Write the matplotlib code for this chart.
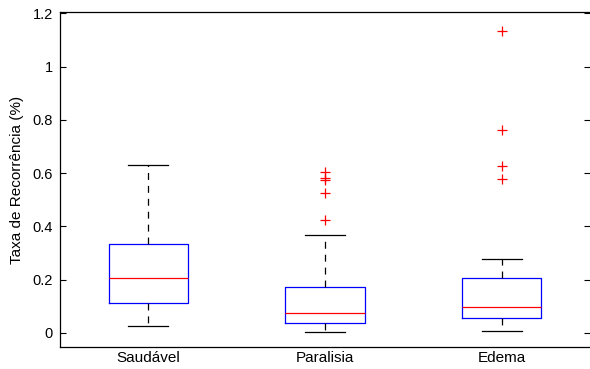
import matplotlib
matplotlib.use("Agg")
import matplotlib.pyplot as plt

plt.rcParams['font.family'] = ['Liberation Sans', 'DejaVu Sans']
plt.rcParams['lines.scale_dashes'] = False

categories = ["Saudável", "Paralisia", "Edema"]
whislo = [0.025, 0.004, 0.008]
q1 = [0.112, 0.036, 0.055]
med = [0.206, 0.073, 0.097]
q3 = [0.334, 0.171, 0.207]
whishi = [0.630, 0.366, 0.279]
fliers = [[], [0.605, 0.581, 0.573, 0.527, 0.425], [1.134, 0.762, 0.626, 0.577]]
yticks = [0, 0.2, 0.4, 0.6, 0.8, 1.0, 1.2]
yticklabels = ["0", "0.2", "0.4", "0.6", "0.8", "1", "1.2"]

stats = []
for i, c in enumerate(categories):
    stats.append(dict(label=c, whislo=whislo[i], q1=q1[i], med=med[i],
                      q3=q3[i], whishi=whishi[i], fliers=fliers[i]))

fig = plt.figure(figsize=(5.9, 3.69), dpi=100)
ax = fig.add_axes([60/590, 1-347/369, 1-60/590, (347-12)/369])

ax.bxp(stats, positions=[1, 2, 3], widths=0.45, capwidths=0.225,
       boxprops=dict(color='#0000ff', linewidth=0.9),
       medianprops=dict(color='#ff0000', linewidth=0.9),
       whiskerprops=dict(color='black', linewidth=0.9, linestyle=(0, (5, 4.3))),
       capprops=dict(color='black', linewidth=0.9),
       flierprops=dict(marker='+', markeredgecolor='#ff0000', markersize=7,
                       markeredgewidth=0.9, linestyle='none'))

ax.set_xlim(0.5, 3.5)
ax.set_ylim(-0.053, 1.205)
ax.set_yticks(yticks)
ax.set_yticklabels(yticklabels)
ax.set_xticks([1, 2, 3])
ax.set_xticklabels(categories)
ax.tick_params(axis='y', direction='in', length=4, width=0.8, right=True,
               labelsize=10.5, pad=5)
ax.tick_params(axis='x', length=0, labelsize=11, pad=3)
for s in ax.spines.values():
    s.set_linewidth(0.9)
ax.spines['right'].set_visible(False)
ax.set_ylabel("Taxa de Recorrência (%)", fontsize=11, labelpad=6)

fig.savefig("out.png", dpi=100)
